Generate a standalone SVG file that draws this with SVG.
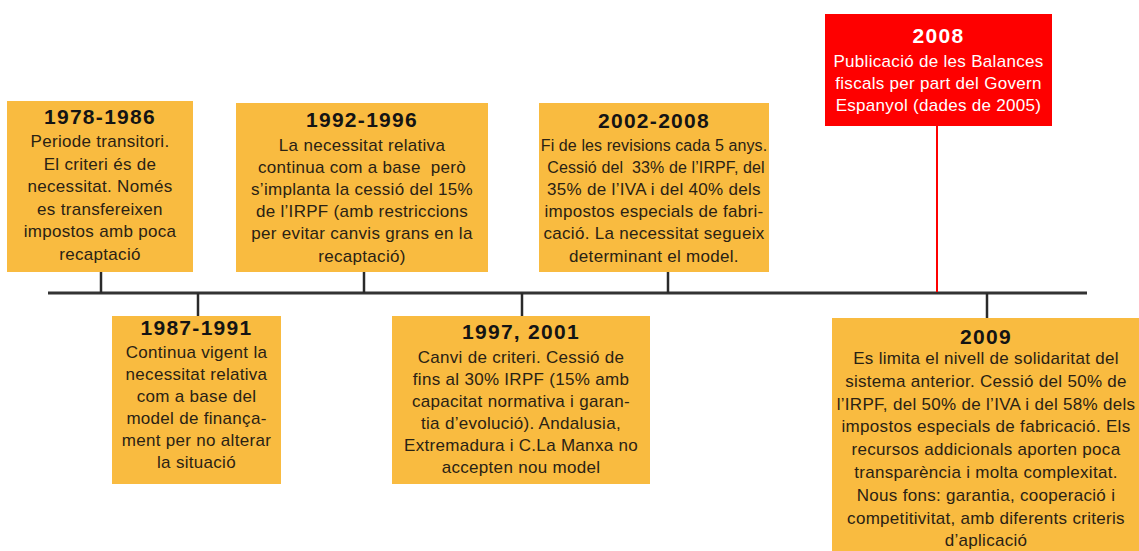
<svg xmlns="http://www.w3.org/2000/svg" width="1139" height="551" viewBox="0 0 1139 551">
<style>
.box{fill:#f9bb40}
.red{fill:#fe0000}
.t{font-family:"Liberation Sans",Arial,sans-serif;font-weight:bold;font-size:21px;letter-spacing:1.3px;fill:#141414;text-anchor:middle}
.b{font-family:"Liberation Sans",Arial,sans-serif;font-size:17px;letter-spacing:0.3px;fill:#2a2214;text-anchor:middle;white-space:pre}
.n{font-size:16px;letter-spacing:0.1px}
.w{fill:#ffffff}
.ln{stroke:#333333;stroke-width:3;fill:none}
.tk{stroke:#2a2a2a;stroke-width:2.5;fill:none}
.rl{stroke:#fe0000;stroke-width:2;fill:none}
</style>
<rect width="1139" height="551" fill="#ffffff"/>
<g id="connectors">
<line class="ln" x1="48" y1="293" x2="1087" y2="293"/>
<line class="tk" x1="101" y1="272" x2="101" y2="293"/>
<line class="tk" x1="198" y1="293" x2="198" y2="316"/>
<line class="tk" x1="364" y1="272" x2="364" y2="293"/>
<line class="tk" x1="522" y1="293" x2="522" y2="316"/>
<line class="tk" x1="668" y1="272" x2="668" y2="293"/>
<line class="rl" x1="937" y1="126" x2="937" y2="292"/>
<line class="tk" x1="987" y1="293" x2="987" y2="318"/>
</g>
<g id="n1978">
<rect class="box" x="7" y="101" width="186" height="171"/>
<text class="t" x="100" y="124">1978-1986</text>
<text class="b" x="100" y="147">Periode transitori.</text>
<text class="b" x="100" y="169.5">El criteri és de</text>
<text class="b" x="100" y="192">necessitat. Només</text>
<text class="b" x="100" y="214.5">es transfereixen</text>
<text class="b" x="100" y="237">impostos amb poca</text>
<text class="b" x="100" y="259.5">recaptació</text>
</g>
<g id="n1987">
<rect class="box" x="112" y="316" width="169" height="168"/>
<text class="t" x="196.5" y="335">1987-1991</text>
<text class="b" x="196.5" y="358">Continua vigent la</text>
<text class="b" x="196.5" y="380">necessitat relativa</text>
<text class="b" x="196.5" y="402">com a base del</text>
<text class="b" x="196.5" y="424">model de finança-</text>
<text class="b" x="196.5" y="446">ment per no alterar</text>
<text class="b" x="196.5" y="468">la situació</text>
</g>
<g id="n1992">
<rect class="box" x="236" y="103" width="252" height="169"/>
<text class="t" x="362" y="127">1992-1996</text>
<text class="b" x="362" y="151">La necessitat relativa</text>
<text class="b" x="362" y="173" xml:space="preserve">continua com a base  però</text>
<text class="b" x="362" y="195">s’implanta la cessió del 15%</text>
<text class="b" x="362" y="217">de l’IRPF (amb restriccions</text>
<text class="b" x="362" y="239">per evitar canvis grans en la</text>
<text class="b" x="362" y="261.5">recaptació)</text>
</g>
<g id="n1997">
<rect class="box" x="392" y="316" width="258" height="168"/>
<text class="t" x="521" y="339">1997, 2001</text>
<text class="b" x="521" y="363">Canvi de criteri. Cessió de</text>
<text class="b" x="521" y="385">fins al 30% IRPF (15% amb</text>
<text class="b" x="521" y="407">capacitat normativa i garan-</text>
<text class="b" x="521" y="429">tia d’evolució). Andalusia,</text>
<text class="b" x="521" y="451">Extremadura i C.La Manxa no</text>
<text class="b" x="521" y="473">accepten nou model</text>
</g>
<g id="n2002">
<rect class="box" x="539" y="103" width="230" height="169"/>
<text class="t" x="654" y="128">2002-2008</text>
<text class="b n" x="654" y="151">Fi de les revisions cada 5 anys.</text>
<text class="b n" x="656" y="173" xml:space="preserve">Cessió del  33% de l’IRPF, del</text>
<text class="b" x="654" y="195">35% de l’IVA i del 40% dels</text>
<text class="b" x="654" y="217">impostos especials de fabri-</text>
<text class="b" x="654" y="239">cació. La necessitat segueix</text>
<text class="b" x="654" y="261.5">determinant el model.</text>
</g>
<g id="n2008">
<rect class="red" x="825" y="14" width="227" height="112"/>
<text class="t w" x="938.5" y="43">2008</text>
<text class="b w" x="938.5" y="67">Publicació de les Balances</text>
<text class="b w" x="938.5" y="89">fiscals per part del Govern</text>
<text class="b w" x="938.5" y="111">Espanyol (dades de 2005)</text>
</g>
<g id="n2009">
<rect class="box" x="832" y="318" width="307" height="233"/>
<text class="t" x="986" y="344">2009</text>
<text class="b" x="986" y="364">Es limita el nivell de solidaritat del</text>
<text class="b" x="986" y="386.8">sistema anterior. Cessió del 50% de</text>
<text class="b" x="986" y="409.6">l’IRPF, del 50% de l’IVA i del 58% dels</text>
<text class="b" x="986" y="432.4">impostos especials de fabricació. Els</text>
<text class="b" x="986" y="455.2">recursos addicionals aporten poca</text>
<text class="b" x="986" y="478">transparència i molta complexitat.</text>
<text class="b" x="986" y="500.8">Nous fons: garantia, cooperació i</text>
<text class="b" x="986" y="523.6">competitivitat, amb diferents criteris</text>
<text class="b" x="986" y="546.4">d’aplicació</text>
</g>
</svg>
